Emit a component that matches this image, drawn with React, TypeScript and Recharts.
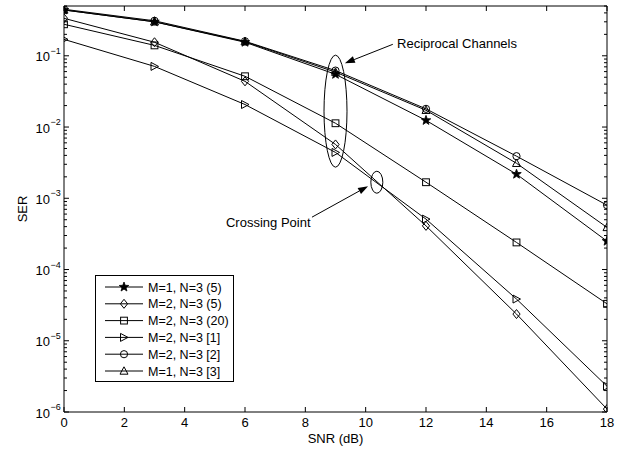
import React from 'react';
import { LineChart, Line, XAxis, YAxis, Legend, ReferenceDot, ReferenceLine, Label } from 'recharts';

// ---------- data ----------
const snr = [0, 3, 6, 9, 12, 15, 18];
const serM1N3_5 = [0.44, 0.30, 0.155, 0.055, 0.0124, 0.00218, 0.00025];
const serM2N3_5 = [0.336, 0.155, 0.0438, 0.0057, 0.00041, 0.0000237, 0.0000011];
const serM2N3_20 = [0.277, 0.14, 0.0516, 0.0113, 0.00168, 0.00024, 0.000033];
const serRef1 = [0.17, 0.071, 0.0207, 0.0044, 0.00051, 0.0000385, 0.0000023];
const serRef2 = [0.45, 0.31, 0.16, 0.062, 0.018, 0.0039, 0.0008];
const serRef3 = [0.44, 0.30, 0.158, 0.059, 0.0172, 0.0031, 0.00039];

const seriesNames = ['M=1, N=3 (5)', 'M=2, N=3 (5)', 'M=2, N=3 (20)', 'M=2, N=3 [1]', 'M=2, N=3 [2]', 'M=1, N=3 [3]'];
const seriesKeys = ['s1', 's2', 's3', 's4', 's5', 's6'];
const seriesMarkers = ['star', 'diamond', 'square', 'triRight', 'circle', 'triUp'];
const seriesValues = [serM1N3_5, serM2N3_5, serM2N3_20, serRef1, serRef2, serRef3];

const xTicks = [0, 2, 4, 6, 8, 10, 12, 14, 16, 18];
const yMajorTicks = [1e-6, 1e-5, 1e-4, 1e-3, 1e-2, 1e-1];
const yMinorMult = [2, 3, 4, 5, 6, 7, 8, 9];
const yDomain = [1e-6, 0.5];

const annotationReciprocal = { text: 'Reciprocal Channels', x: 11.04, y: 0.15 };
const annotationCrossing = { text: 'Crossing Point', x: 5.37, y: 0.00046 };
const ellipseReciprocal = { x: 9, y: 0.0167 };
const ellipseCrossing = { x: 10.37, y: 0.00168 };
const arrowReciprocal = [{ x: 10.9, y: 0.145 }, { x: 9.31, y: 0.0785 }];
const arrowCrossing = [{ x: 8.22, y: 0.000543 }, { x: 10.08, y: 0.00148 }];

// ---------- layout ----------
const W = 630;
const H = 449;
const PL = 64;
const PR = 607;
const PT = 6;
const PB = 412;
const FONT = 'Liberation Sans, Arial, Helvetica, sans-serif';
const PX_PER_DECADE = (PB - PT) / Math.log10(yDomain[1] / yDomain[0]);

const data = snr.map((s, i) => {
  const row: any = { snr: s };
  seriesKeys.forEach((k, j) => { row[k] = seriesValues[j][i]; });
  return row;
});

function markerShape(type: string, cx: number, cy: number, key?: any) {
  const s = { stroke: '#000', strokeWidth: 1, fill: 'none' } as any;
  switch (type) {
    case 'star': {
      const pts: string[] = [];
      for (let i = 0; i < 10; i++) {
        const r = i % 2 === 0 ? 5 : 2.1;
        const a = -Math.PI / 2 + (i * Math.PI) / 5;
        pts.push(`${cx + r * Math.cos(a)},${cy + r * Math.sin(a)}`);
      }
      return <polygon key={key} points={pts.join(' ')} fill="#000" stroke="#000" strokeWidth={0.8} />;
    }
    case 'diamond':
      return <polygon key={key} points={`${cx},${cy - 4.5} ${cx + 3.6},${cy} ${cx},${cy + 4.5} ${cx - 3.6},${cy}`} {...s} />;
    case 'square':
      return <rect key={key} x={cx - 3.4} y={cy - 3.4} width={6.8} height={6.8} {...s} />;
    case 'triRight':
      return <polygon key={key} points={`${cx - 3.5},${cy - 4} ${cx + 4},${cy} ${cx - 3.5},${cy + 4}`} {...s} />;
    case 'circle':
      return <circle key={key} cx={cx} cy={cy} r={3.6} {...s} />;
    case 'triUp':
    default:
      return <polygon key={key} points={`${cx},${cy - 4.2} ${cx + 4},${cy + 3.2} ${cx - 4},${cy + 3.2}`} {...s} />;
  }
}

const makeDot = (type: string) => (props: any) => {
  const { cx, cy, index } = props;
  if (cx == null || cy == null) return <g key={`d-${type}-${index}`} />;
  return <g key={`d-${type}-${index}`}>{markerShape(type, cx, cy)}</g>;
};

const XTick = (props: any) => {
  const { x, payload } = props;
  return (
    <g>
      <line x1={x} x2={x} y1={PB} y2={PB - 5} stroke="#000" />
      <line x1={x} x2={x} y1={PT} y2={PT + 5} stroke="#000" />
      <text x={x} y={PB + 15} textAnchor="middle" fontSize={13} fontFamily={FONT} fill="#000">{payload.value}</text>
    </g>
  );
};

const YTick = (props: any) => {
  const { y, payload } = props;
  const v = payload.value;
  const e = Math.round(Math.log10(v));
  const minors = yMinorMult
    .filter((m) => m * v <= yDomain[1] * (1 + 1e-9))
    .map((m) => y - Math.log10(m) * PX_PER_DECADE);
  return (
    <g>
      <line x1={PL} x2={PL + 5} y1={y} y2={y} stroke="#000" />
      <line x1={PR} x2={PR - 5} y1={y} y2={y} stroke="#000" />
      {minors.map((my, i) => (
        <g key={i}>
          <line x1={PL} x2={PL + 3} y1={my} y2={my} stroke="#000" />
          <line x1={PR} x2={PR - 3} y1={my} y2={my} stroke="#000" />
        </g>
      ))}
      <text x={PL - 14} y={y + 5.5} textAnchor="end" fontSize={13} fontFamily={FONT} fill="#000">10</text>
      <text x={PL - 13.5} y={y - 2} textAnchor="start" fontSize={9} fontFamily={FONT} fill="#000">{`\u2212${-e}`}</text>
    </g>
  );
};

const ArrowShape = (p: any) => {
  const { x1, y1, x2, y2 } = p;
  const ang = Math.atan2(y2 - y1, x2 - x1);
  const c = Math.cos(ang);
  const s = Math.sin(ang);
  const L = 10;
  const hw = 3.5;
  const bx = x2 - L * c;
  const by = y2 - L * s;
  const px = -s * hw;
  const py = c * hw;
  return (
    <g>
      <line x1={x1} y1={y1} x2={bx} y2={by} stroke="#000" strokeWidth={1} />
      <polygon points={`${x2},${y2} ${bx + px},${by + py} ${bx - px},${by - py}`} fill="#000" />
    </g>
  );
};

const ellipseShape = (rx: number, ry: number) => (p: any) => (
  <ellipse cx={p.cx} cy={p.cy} rx={rx} ry={ry} fill="none" stroke="#000" strokeWidth={1} />
);

const textShape = (txt: string) => (p: any) => (
  <text x={p.cx} y={p.cy + 4.5} textAnchor="start" fontSize={13} fontFamily={FONT} fill="#000">{txt}</text>
);

const LegendBox = () => (
  <svg width={139} height={107} style={{ display: 'block' }}>
    <rect x={0.5} y={0.5} width={138} height={106} fill="#fff" stroke="#000" strokeWidth={1} />
    {seriesNames.map((name, i) => {
      const y = 12 + i * 16.8;
      return (
        <g key={name}>
          <line x1={10} x2={48} y1={y} y2={y} stroke="#000" />
          {markerShape(seriesMarkers[i], 29, y)}
          <text x={53} y={y + 4.5} fontSize={12.5} fontFamily={FONT} fill="#000">{name}</text>
        </g>
      );
    })}
  </svg>
);

export default function App() {
  return (
    <div style={{ position: 'absolute', left: 0, top: 0, width: W, height: H, background: '#fff' }}>
      <LineChart width={W} height={H} data={data} margin={{ top: PT, right: W - PR, left: 0, bottom: 0 }} style={{ fontFamily: FONT }}>
        <XAxis
          dataKey="snr"
          type="number"
          domain={[0, 18]}
          ticks={xTicks}
          interval={0}
          allowDataOverflow
          height={H - PB}
          tickSize={0}
          tickMargin={0}
          tick={XTick}
          tickLine={false}
          axisLine={{ stroke: '#000' }}
        >
          <Label
            content={(p: any) => {
              const vb = p.viewBox || {};
              return (
                <text x={vb.x + vb.width / 2} y={vb.y + 31} textAnchor="middle" fontSize={13} fontFamily={FONT} fill="#000">SNR (dB)</text>
              );
            }}
          />
        </XAxis>
        <YAxis
          type="number"
          scale="log"
          domain={yDomain}
          ticks={yMajorTicks}
          interval={0}
          allowDataOverflow
          width={PL}
          tickSize={0}
          tickMargin={0}
          tick={YTick}
          tickLine={false}
          axisLine={{ stroke: '#000' }}
        >
          <Label
            content={(p: any) => {
              const vb = p.viewBox || {};
              const cx = vb.x + 27;
              const cy = vb.y + vb.height / 2;
              return (
                <text transform={`translate(${cx},${cy}) rotate(-90)`} textAnchor="middle" fontSize={13} fontFamily={FONT} fill="#000">SER</text>
              );
            }}
          />
        </YAxis>
        <ReferenceLine y={yDomain[1]} stroke="#000" ifOverflow="visible" />
        <ReferenceLine x={18} stroke="#000" ifOverflow="visible" />
        {seriesKeys.map((k, i) => (
          <Line
            key={k}
            dataKey={k}
            name={seriesNames[i]}
            type="linear"
            stroke="#000"
            strokeWidth={1}
            dot={makeDot(seriesMarkers[i])}
            activeDot={false}
            isAnimationActive={false}
          />
        ))}
        <ReferenceDot x={ellipseReciprocal.x} y={ellipseReciprocal.y} shape={ellipseShape(11.5, 56)} ifOverflow="visible" />
        <ReferenceDot x={ellipseCrossing.x} y={ellipseCrossing.y} shape={ellipseShape(6, 11)} ifOverflow="visible" />
        <ReferenceLine segment={arrowReciprocal} shape={ArrowShape} ifOverflow="visible" />
        <ReferenceLine segment={arrowCrossing} shape={ArrowShape} ifOverflow="visible" />
        <ReferenceDot x={annotationReciprocal.x} y={annotationReciprocal.y} shape={textShape(annotationReciprocal.text)} ifOverflow="visible" />
        <ReferenceDot x={annotationCrossing.x} y={annotationCrossing.y} shape={textShape(annotationCrossing.text)} ifOverflow="visible" />
        <Legend
          layout="vertical"
          align="center"
          verticalAlign="middle"
          content={() => <LegendBox />}
          wrapperStyle={{ left: 95, top: 275, width: 139, height: 107 }}
        />
      </LineChart>
    </div>
  );
}
